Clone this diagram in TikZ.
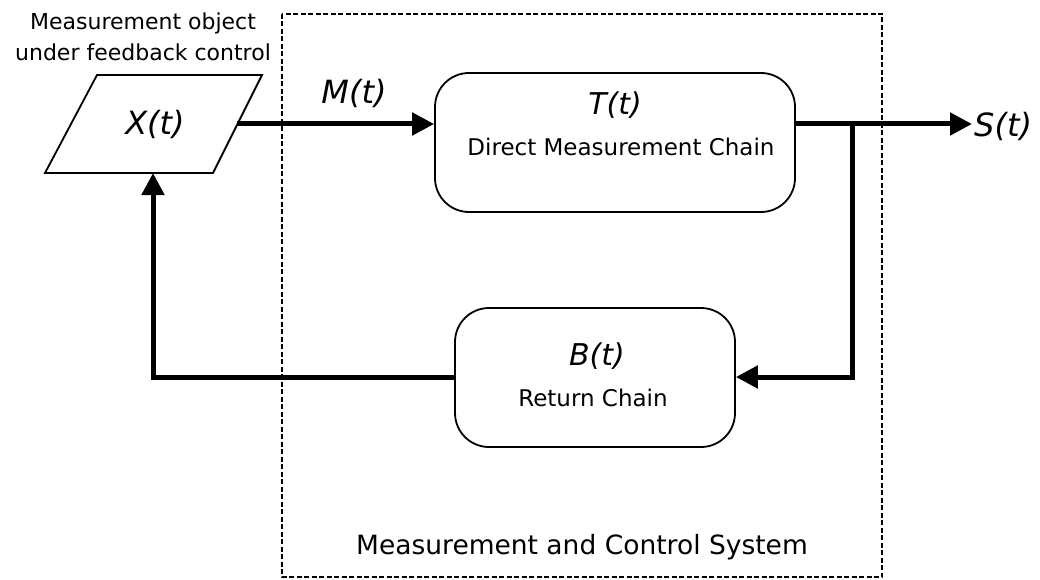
\documentclass[tikz,border=0pt]{standalone}
\usepackage{fontspec}
\setmainfont{DejaVu Sans}
\usetikzlibrary{arrows.meta,shapes.geometric}
\tikzset{
  block/.style={draw,line width=1.8pt,rounded corners=34pt,fill=white,align=center},
  flow/.style={line width=5pt},
  flowarrow/.style={flow,-{Triangle[length=22pt,width=22pt]}},
  sys/.style={draw,line width=1.6pt,dash pattern=on 5pt off 2.5pt},
  sig/.style={font=\fontsize{32}{34}\selectfont\itshape},
  bsig/.style={font=\fontsize{30}{32}\selectfont\itshape},
  txt/.style={font=\fontsize{23}{30}\selectfont},
  objtext/.style={font=\fontsize{22}{31}\selectfont,align=center},
  systext/.style={font=\fontsize{26.5}{30}\selectfont}
}
\begin{document}
\begin{tikzpicture}[x=1pt,y=-1pt]
\useasboundingbox (0,0) rectangle (1040,580);
% system boundary
\draw[sys] (282,14) rectangle (882,577);
\node[systext] (systxt) at (582,547) {Measurement and Control System};
% object under control
\draw[line width=1.8pt] (97,75) -- (262,75) -- (213,173) -- (45,173) -- cycle;
\node[sig] (X) at (155,124) {X(t)};
\coordinate (xout) at (237,124);
\coordinate (xin) at (153,173);
\node[objtext] (objtxt) at (143,37) {Measurement object\\under feedback control};
% blocks
\node[block,minimum width=360pt,minimum height=139pt] (T) at (615,142.5) {};
\node[bsig] (Tt) at (615,105) {T(t)};
\node[txt] (Tl) at (621,147) {Direct Measurement Chain};
\node[block,minimum width=280pt,minimum height=139pt] (B) at (595,377.5) {};
\node[bsig] (Bt) at (597,356) {B(t)};
\node[txt] (Bl) at (593,398) {Return Chain};
% signals
\node[sig,anchor=west,inner sep=2pt] (S) at (972,126) {S(t)};
\node[sig] (M) at (354,93) {M(t)};
\coordinate (br) at (852,124);
\coordinate (brd) at (852,377);
\coordinate (fbl) at (153,377);
\draw[flowarrow] (xout) -- (T.west |- xout);
\draw[flowarrow] (T.east |- xout) -- (S.west |- xout);
\draw[flowarrow] (br) -- (brd) -- (B.east |- brd);
\draw[flowarrow] (B.west |- brd) -- (fbl) -- (xin);
\end{tikzpicture}
\end{document}
